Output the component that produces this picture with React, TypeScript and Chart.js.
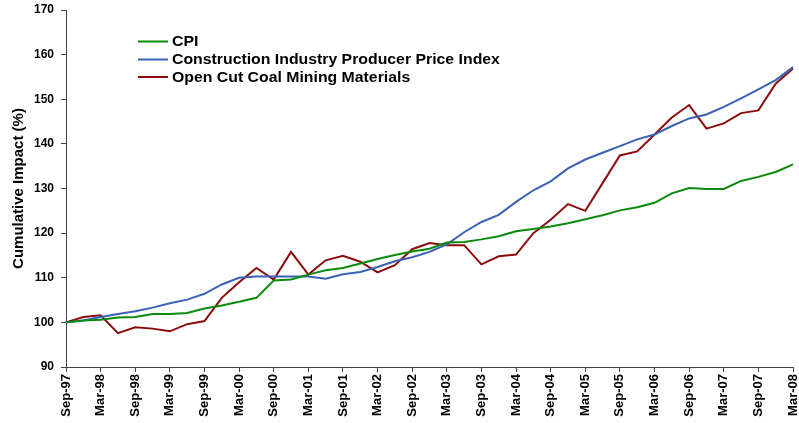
import React, { useEffect, useRef } from "react";
import { Chart, registerables } from "chart.js";

Chart.register(...registerables);

const quarters: string[] = [
  "Sep-97", "Dec-97", "Mar-98", "Jun-98", "Sep-98", "Dec-98", "Mar-99", "Jun-99",
  "Sep-99", "Dec-99", "Mar-00", "Jun-00", "Sep-00", "Dec-00", "Mar-01", "Jun-01",
  "Sep-01", "Dec-01", "Mar-02", "Jun-02", "Sep-02", "Dec-02", "Mar-03", "Jun-03",
  "Sep-03", "Dec-03", "Mar-04", "Jun-04", "Sep-04", "Dec-04", "Mar-05", "Jun-05",
  "Sep-05", "Dec-05", "Mar-06", "Jun-06", "Sep-06", "Dec-06", "Mar-07", "Jun-07",
  "Sep-07", "Dec-07", "Mar-08",
];

const cpi: number[] = [
  100, 100.4, 100.6, 101.1, 101.2, 101.9, 101.9, 102.1, 103.1, 103.8, 104.6,
  105.5, 109.4, 109.6, 110.7, 111.7, 112.2, 113.2, 114.2, 115.1, 115.9, 116.5,
  117.9, 118.0, 118.6, 119.3, 120.4, 120.9, 121.5, 122.2, 123.1, 124.0, 125.1,
  125.8, 126.8, 128.9, 130.1, 129.9, 129.9, 131.7, 132.6, 133.7, 135.4,
];

const constructionPPI: number[] = [
  100, 100.4, 101.2, 101.9, 102.5, 103.3, 104.3, 105.1, 106.4, 108.5, 110.0,
  110.3, 110.3, 110.3, 110.3, 109.8, 110.8, 111.3, 112.4, 113.7, 114.6, 115.8,
  117.5, 120.2, 122.5, 124.1, 127.0, 129.6, 131.6, 134.5, 136.5, 138.0, 139.5,
  141.0, 142.1, 144.0, 145.7, 146.6, 148.3, 150.2, 152.2, 154.3, 157.2,
];

const coalMaterials: number[] = [
  100, 101.2, 101.6, 97.6, 98.9, 98.6, 98.0, 99.6, 100.3, 105.5, 109.0,
  112.2, 109.6, 115.8, 110.7, 113.9, 114.9, 113.6, 111.2, 112.8, 116.4, 117.8,
  117.3, 117.3, 113.0, 114.8, 115.2, 120.0, 123.0, 126.5, 125.0, 131.2, 137.4,
  138.3, 142.1, 145.9, 148.7, 143.4, 144.6, 146.9, 147.5, 153.5, 156.9,
];

const seriesNames: string[] = [
  "CPI",
  "Construction Industry Producer Price Index",
  "Open Cut Coal Mining Materials",
];
const seriesColors: string[] = ["#0b8a0b", "#3a62b4", "#8a0c0c"];

const yMin = 90;
const yMax = 170;
const yStep = 10;
const yTitle = "Cumulative Impact (%)";

const FONT = "'Liberation Sans', Arial, sans-serif";

const legendPlugin = {
  id: "insideLegend",
  afterDraw(chart: any) {
    const ctx = chart.ctx;
    const x0 = 138;
    const lineLen = 30;
    const textX = 172;
    const ys = [41.5, 59.5, 77];
    seriesNames.forEach((name, i) => {
      ctx.save();
      ctx.strokeStyle = seriesColors[i];
      ctx.lineWidth = 2;
      ctx.beginPath();
      ctx.moveTo(x0, ys[i]);
      ctx.lineTo(x0 + lineLen, ys[i]);
      ctx.stroke();
      ctx.translate(textX, ys[i] + 1);
      ctx.scale(1.13, 1);
      ctx.font = `bold 14px ${FONT}`;
      ctx.textBaseline = "middle";
      ctx.textAlign = "left";
      ctx.fillStyle = "#000";
      ctx.fillText(name, 0, 0);
      ctx.restore();
    });
  },
};

export default function App() {
  const canvasRef = useRef<HTMLCanvasElement | null>(null);

  useEffect(() => {
    if (!canvasRef.current) return;
    const seriesData = [cpi, constructionPPI, coalMaterials];
    const chart = new Chart(canvasRef.current, {
      type: "line",
      data: {
        labels: quarters,
        datasets: seriesNames.map((name, i) => ({
          label: name,
          data: seriesData[i],
          borderColor: seriesColors[i],
          backgroundColor: seriesColors[i],
          borderWidth: 2,
          pointRadius: 0,
          tension: 0,
          fill: false,
        })),
      },
      options: {
        animation: false,
        responsive: true,
        maintainAspectRatio: false,
        layout: { padding: { left: 0, top: 10, right: 6, bottom: 0 } },
        plugins: {
          legend: { display: false },
          tooltip: { enabled: false },
        },
        scales: {
          x: {
            type: "category",
            offset: false,
            border: { color: "#444", width: 1 },
            grid: {
              display: true,
              drawOnChartArea: false,
              drawTicks: true,
              tickLength: 5,
              tickColor: (c: any) => (c.index % 2 === 0 ? "#444" : "rgba(0,0,0,0)"),
            },
            ticks: {
              autoSkip: false,
              minRotation: 90,
              maxRotation: 90,
              padding: 2,
              color: "#000",
              font: { family: FONT, size: 13, weight: "bold" },
              callback: (_v: any, idx: number) => (idx % 2 === 0 ? quarters[idx] : ""),
            },
            afterFit: (scale: any) => {
              scale.height = 56;
              scale.paddingLeft = 0;
              scale.paddingRight = 0;
            },
          },
          y: {
            min: yMin,
            max: yMax,
            border: { color: "#444", width: 1 },
            grid: {
              display: true,
              drawOnChartArea: false,
              drawTicks: true,
              tickLength: 5,
              tickColor: "#444",
            },
            ticks: {
              stepSize: yStep,
              padding: 7,
              color: "#000",
              font: { family: FONT, size: 12, weight: "bold" },
            },
            title: {
              display: true,
              text: yTitle,
              color: "#000",
              font: { family: FONT, size: 15, weight: "bold" },
              padding: { top: 10, bottom: 0 },
            },
            afterFit: (scale: any) => {
              scale.width = 66;
              scale.paddingTop = 0;
              scale.paddingBottom = 0;
            },
          },
        },
      },
      plugins: [legendPlugin],
    } as any);
    return () => chart.destroy();
  }, []);

  return (
    <div style={{ position: "fixed", left: 0, top: 0, width: 799, height: 423, background: "#fff" }}>
      <canvas ref={canvasRef} />
    </div>
  );
}
